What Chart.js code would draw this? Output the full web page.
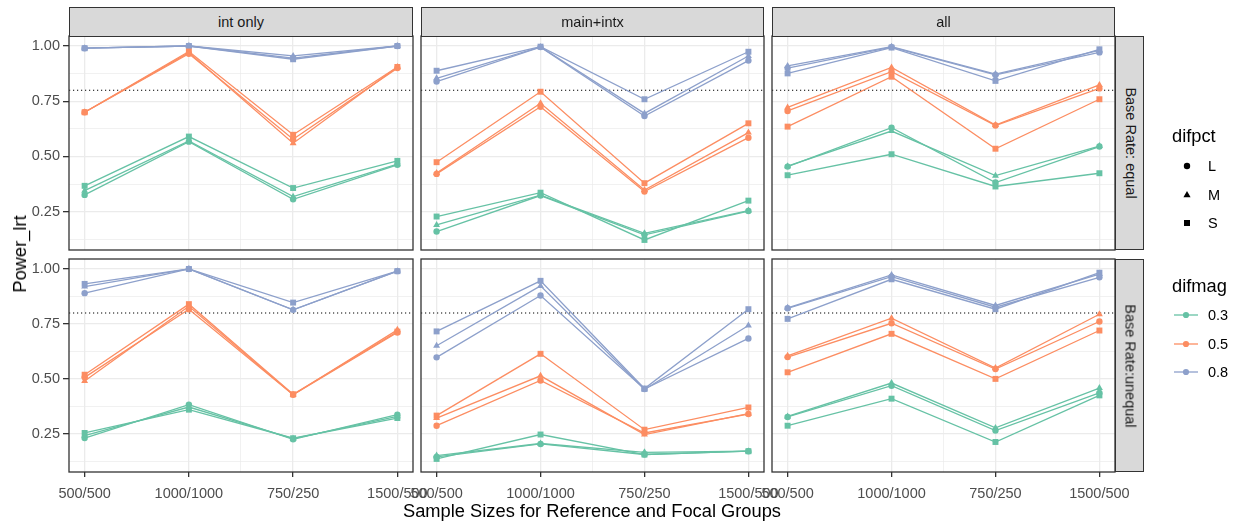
<!DOCTYPE html>
<html>
<head>
<meta charset="utf-8">
<script src="https://cdn.jsdelivr.net/npm/chart.js@4"></script>
<style>
  html, body { margin:0; padding:0; background:#ffffff; }
  #wrap { position:relative; width:1238px; height:523px; overflow:hidden; background:#ffffff;
          font-family:"Liberation Sans", Arial, sans-serif; }
  canvas { position:absolute; left:0; top:0; }
  .strip { position:absolute; box-sizing:border-box; background:#D9D9D9; border:1.3px solid #333333; }
  .txt { position:absolute; white-space:nowrap; }
</style>
</head>
<body>
<div id="wrap"></div>
<script>
// ---------------- data ----------------
const sampleSizes = ["500/500", "1000/1000", "750/250", "1500/500"];
const xPositions = [1, 2, 3, 4];
const models = ["int only", "main+intx", "all"];
const baseRates = ["Base Rate: equal", "Base Rate:unequal"];
const difmagLevels = ["0.3", "0.5", "0.8"];
const difpctLevels = ["L", "M", "S"];
const yMajorTicks = [0.25, 0.5, 0.75, 1.0];
const yMinorTicks = [0.125, 0.375, 0.625, 0.875];
const xMinorTicks = [2.5];
const referenceLine = 0.8;

// rows: 0.3 L, 0.3 M, 0.3 S, 0.5 L, 0.5 M, 0.5 S, 0.8 L, 0.8 M, 0.8 S
const equalIntOnly = [
  [0.326, 0.567, 0.306, 0.462],
  [0.345, 0.570, 0.318, 0.465],
  [0.367, 0.590, 0.357, 0.480],
  [0.700, 0.965, 0.578, 0.900],
  [0.700, 0.970, 0.560, 0.905],
  [0.700, 0.975, 0.598, 0.905],
  [0.990, 1.000, 0.945, 1.000],
  [0.990, 1.000, 0.955, 1.000],
  [0.990, 1.000, 0.940, 1.000]
];
const equalMainIntx = [
  [0.160, 0.323, 0.145, 0.253],
  [0.190, 0.325, 0.152, 0.255],
  [0.228, 0.336, 0.122, 0.300],
  [0.421, 0.725, 0.341, 0.585],
  [0.425, 0.741, 0.348, 0.608],
  [0.474, 0.793, 0.379, 0.650],
  [0.839, 0.995, 0.683, 0.934],
  [0.854, 0.996, 0.695, 0.955],
  [0.888, 0.997, 0.759, 0.974]
];
const equalAll = [
  [0.454, 0.630, 0.382, 0.545],
  [0.456, 0.615, 0.413, 0.547],
  [0.415, 0.510, 0.364, 0.424],
  [0.706, 0.884, 0.640, 0.808],
  [0.722, 0.903, 0.642, 0.824],
  [0.635, 0.861, 0.535, 0.759],
  [0.900, 0.995, 0.869, 0.971],
  [0.910, 0.997, 0.873, 0.980],
  [0.876, 0.993, 0.842, 0.985]
];
const unequalIntOnly = [
  [0.231, 0.383, 0.225, 0.337],
  [0.242, 0.372, 0.228, 0.330],
  [0.254, 0.360, 0.230, 0.322],
  [0.507, 0.817, 0.428, 0.711],
  [0.490, 0.830, 0.428, 0.723],
  [0.519, 0.840, 0.430, 0.715],
  [0.890, 1.000, 0.814, 0.990],
  [0.920, 1.000, 0.814, 0.990],
  [0.932, 1.000, 0.847, 0.990]
];
const unequalMainIntx = [
  [0.145, 0.204, 0.156, 0.171],
  [0.151, 0.206, 0.166, 0.171],
  [0.136, 0.247, 0.156, 0.171],
  [0.287, 0.493, 0.254, 0.340],
  [0.322, 0.514, 0.247, 0.342],
  [0.333, 0.614, 0.269, 0.370],
  [0.598, 0.879, 0.454, 0.684],
  [0.651, 0.923, 0.452, 0.743],
  [0.716, 0.946, 0.456, 0.817]
];
const unequalAll = [
  [0.327, 0.469, 0.265, 0.436],
  [0.329, 0.481, 0.277, 0.458],
  [0.287, 0.410, 0.213, 0.425],
  [0.599, 0.753, 0.545, 0.761],
  [0.605, 0.776, 0.549, 0.794],
  [0.530, 0.705, 0.500, 0.720],
  [0.821, 0.965, 0.826, 0.962],
  [0.823, 0.973, 0.834, 0.977],
  [0.773, 0.953, 0.817, 0.983]
];
const panelData = [
  [equalIntOnly, equalMainIntx, equalAll],
  [unequalIntOnly, unequalMainIntx, unequalAll]
];

// ---------------- styles / layout ----------------
const W = 1238, H = 523;
const colLeft = [69, 421, 772], colRight = [413, 764, 1115];
const rowTop = [36, 259], rowBottom = [250, 472];
const yRange = [0.0765, 1.0453], xRange = [0.85, 4.15];
const magColors = ["#66C2A5", "#FC8D62", "#8DA0CB"];
const pctStyles = ["circle", "triangle", "rect"];
const pctRadius = [3.2, 4.0, 4.2];
const FONT = "'Liberation Sans', Arial, sans-serif";
const wrap = document.getElementById('wrap');

const panelDecor = {
  id: 'panelDecor',
  beforeDatasetsDraw(chart) {
    const {ctx, chartArea: a, scales} = chart;
    const y = scales.y.getPixelForValue(referenceLine);
    ctx.save();
    ctx.beginPath(); ctx.rect(a.left, a.top, a.right - a.left, a.bottom - a.top); ctx.clip();
    ctx.strokeStyle = '#000000'; ctx.lineWidth = 1.1; ctx.setLineDash([1.2, 2.8]);
    ctx.beginPath(); ctx.moveTo(a.left, y); ctx.lineTo(a.right, y); ctx.stroke();
    ctx.restore();
  },
  afterDraw(chart) {
    const {ctx, chartArea: a} = chart;
    ctx.save();
    ctx.strokeStyle = '#333333'; ctx.lineWidth = 1.3;
    ctx.strokeRect(a.left, a.top, a.right - a.left, a.bottom - a.top);
    ctx.restore();
  }
};

function makePanel(r, c) {
  const canvas = document.createElement('canvas');
  canvas.width = W; canvas.height = H;
  canvas.style.width = W + 'px'; canvas.style.height = H + 'px';
  wrap.appendChild(canvas);
  const isLeft = c === 0, isBottom = r === 1;
  const Wy = 60, Hx = 40;
  const rows = panelData[r][c];
  const lineSets = [], pointSets = [];
  rows.forEach((vals, k) => {
    const m = Math.floor(k / 3), p = k % 3;
    const pts = vals.map((v, i) => ({x: xPositions[i], y: v}));
    lineSets.push({
      data: pts, borderColor: magColors[m], borderWidth: 1.3, pointRadius: 0,
      tension: 0, fill: false, showLine: true
    });
    pointSets.push({
      data: pts, showLine: false, pointStyle: pctStyles[p], pointRadius: pctRadius[p],
      pointBackgroundColor: magColors[m], pointBorderColor: magColors[m], pointBorderWidth: 0,
      pointHoverRadius: pctRadius[p]
    });
  });
  const isMajorX = v => xPositions.includes(v);
  const isMajorY = v => yMajorTicks.includes(v);
  new Chart(canvas, {
    type: 'line',
    data: {datasets: lineSets.concat(pointSets)},
    options: {
      responsive: false, animation: false, devicePixelRatio: 1,
      events: [],
      layout: {padding: {
        left: colLeft[c] - (isLeft ? Wy : 0),
        right: W - colRight[c],
        top: rowTop[r],
        bottom: H - rowBottom[r] - (isBottom ? Hx : 0)
      }},
      plugins: {legend: {display: false}, tooltip: {enabled: false}},
      scales: {
        x: {
          type: 'linear', min: xRange[0], max: xRange[1], bounds: 'data',
          afterBuildTicks: s => { s.ticks = xPositions.concat(xMinorTicks).sort().map(v => ({value: v})); },
          afterFit: s => { s.height = isBottom ? Hx : 0; },
          border: {display: false},
          grid: {
            color: '#EBEBEB',
            lineWidth: ctx => (ctx.tick && isMajorX(ctx.tick.value)) ? 1.3 : 0.7,
            drawTicks: isBottom, tickLength: 5,
            tickColor: ctx => (ctx.tick && isMajorX(ctx.tick.value)) ? '#333333' : 'rgba(0,0,0,0)',
            tickWidth: 1.3
          },
          ticks: {
            display: isBottom, autoSkip: false, maxRotation: 0, minRotation: 0, padding: 8,
            color: '#4D4D4D', font: {family: FONT, size: 14.5},
            callback: v => { const i = xPositions.indexOf(v); return i >= 0 ? sampleSizes[i] : ''; }
          }
        },
        y: {
          type: 'linear', min: yRange[0], max: yRange[1], bounds: 'data',
          afterBuildTicks: s => { s.ticks = yMinorTicks.concat(yMajorTicks).sort((a, b) => a - b).map(v => ({value: v})); },
          afterFit: s => { s.width = isLeft ? Wy : 0; },
          border: {display: false},
          grid: {
            color: '#EBEBEB',
            lineWidth: ctx => (ctx.tick && isMajorY(ctx.tick.value)) ? 1.3 : 0.7,
            drawTicks: isLeft, tickLength: 6,
            tickColor: ctx => (ctx.tick && isMajorY(ctx.tick.value)) ? '#333333' : 'rgba(0,0,0,0)',
            tickWidth: 1.3
          },
          ticks: {
            display: isLeft, autoSkip: false, padding: 3,
            color: '#4D4D4D', font: {family: FONT, size: 14.5},
            callback: v => isMajorY(v) ? v.toFixed(2) : ''
          }
        }
      }
    },
    plugins: [panelDecor]
  });
}

for (let r = 0; r < 2; r++) for (let c = 0; c < 3; c++) makePanel(r, c);

// ---------------- strips, titles, legend (HTML text) ----------------
function addText(str, x, y, opts) {
  const d = document.createElement('div');
  d.className = 'txt';
  d.textContent = str;
  const size = opts.size || 14.5;
  d.style.fontSize = size + 'px';
  d.style.lineHeight = Math.round(size * 1.2) + 'px';
  d.style.color = opts.color || '#000000';
  d.style.left = x + 'px';
  d.style.top = y + 'px';
  d.style.transform = opts.transform || 'translate(0,-50%)';
  wrap.appendChild(d);
  return d;
}
function addBox(cls, x, y, w, h) {
  const d = document.createElement('div');
  d.className = cls;
  d.style.left = x + 'px'; d.style.top = y + 'px';
  d.style.width = w + 'px'; d.style.height = h + 'px';
  wrap.appendChild(d);
  return d;
}
// top strips
models.forEach((m, c) => {
  addBox('strip', colLeft[c], 7, colRight[c] - colLeft[c], 29.5);
  addText(m, (colLeft[c] + colRight[c]) / 2, 22, {color: '#1A1A1A', transform: 'translate(-50%,-50%)'});
});
// right strips
baseRates.forEach((b, r) => {
  addBox('strip', 1114.5, rowTop[r], 29.5, rowBottom[r] - rowTop[r]);
  addText(b, 1129.5, (rowTop[r] + rowBottom[r]) / 2, {color: '#1A1A1A', transform: 'translate(-50%,-50%) rotate(90deg)'});
});
// axis titles
addText('Power_lrt', 20, 254, {size: 18.3, transform: 'translate(-50%,-50%) rotate(-90deg)'});
addText('Sample Sizes for Reference and Focal Groups', 592, 511, {size: 18.3, transform: 'translate(-50%,-50%)'});

// legend: difpct
addText('difpct', 1172, 136, {size: 18.3});
const NS = 'http://www.w3.org/2000/svg';
function addSvg(x, y, w, h, inner) {
  const s = document.createElementNS(NS, 'svg');
  s.setAttribute('width', w); s.setAttribute('height', h);
  s.style.position = 'absolute'; s.style.left = x + 'px'; s.style.top = y + 'px';
  s.innerHTML = inner;
  wrap.appendChild(s);
}
const pctY = [166, 194.5, 223];
addSvg(1180, pctY[0] - 7, 14, 14, '<circle cx="7" cy="7" r="3.2" fill="#000"/>');
addSvg(1180, pctY[1] - 7, 14, 14, '<polygon points="7,3 10.6,9.3 3.4,9.3" fill="#000"/>');
addSvg(1180, pctY[2] - 7, 14, 14, '<rect x="4" y="4" width="6" height="6" fill="#000"/>');
difpctLevels.forEach((l, i) => addText(l, 1208, pctY[i], {}));

// legend: difmag
addText('difmag', 1172, 286, {size: 18.3});
const magY = [315, 343.5, 372];
difmagLevels.forEach((l, i) => {
  addSvg(1172, magY[i] - 7, 28, 14,
    '<line x1="2" y1="7" x2="26" y2="7" stroke="' + magColors[i] + '" stroke-width="1.3"/>' +
    '<circle cx="14" cy="7" r="3.1" fill="' + magColors[i] + '"/>');
  addText(l, 1208, magY[i], {});
});
</script>
</body>
</html>
